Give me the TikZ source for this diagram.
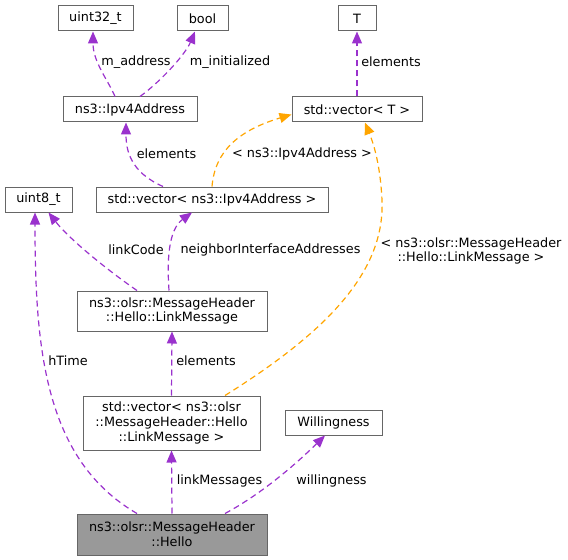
\documentclass[tikz,border=0pt]{standalone}
\usepackage{fontspec}
\setmainfont{DejaVu Sans}
\usetikzlibrary{arrows.meta,calc}
\definecolor{edgepurple}{HTML}{9A32CD}
\definecolor{edgeorange}{HTML}{FFA500}
\definecolor{boxline}{HTML}{666666}
\definecolor{hellofill}{HTML}{999999}
\tikzset{
  box/.style={draw=boxline, line width=0.75pt, inner sep=0pt, align=center,
    font=\fontsize{9.6}{11}\selectfont, fill=white, minimum height=18.75pt},
  rel/.style={draw=edgepurple, line width=0.9pt, dash pattern=on 4.5pt off 3pt,
    -{Triangle[length=9pt,width=7.5pt]}},
  tmpl/.style={rel, draw=edgeorange},
  lbl/.style={font=\fontsize{9.6}{11}\selectfont, inner sep=0pt, align=center}
}
\begin{document}
\begin{tikzpicture}[x=0.75pt,y=-0.75pt]
\useasboundingbox (0,0) rectangle (568,560);
% nodes
\node[box, minimum width=56.25pt] (u32) at (95.5,18.5) {uint32\_t};
\node[box, minimum width=38.25pt] (bool) at (202.5,18.5) {bool};
\node[box, minimum width=28.5pt] (T) at (357,18.5) {T};
\node[box, minimum width=100.5pt] (ipv4) at (130,109.5) {ns3::Ipv4Address};
\node[box, minimum width=97.5pt] (vecT) at (357,109.5) {std::vector< T >};
\node[box, minimum width=50.25pt] (u8) at (38.5,199.5) {uint8\_t};
\node[box, minimum width=174pt] (vecipv4) at (212,199.5) {std::vector< ns3::Ipv4Address >};
\node[box, minimum width=142.5pt, minimum height=30pt] (lm) at (172,311) {ns3::olsr::MessageHeader\\::Hello::LinkMessage};
\node[box, minimum width=132.75pt, minimum height=40.5pt] (veclm) at (171.5,423) {std::vector< ns3::olsr\\::MessageHeader::Hello\\::LinkMessage >};
\node[box, minimum width=72.75pt] (will) at (333.5,422.5) {Willingness};
\node[box, minimum width=142.5pt, minimum height=30.75pt, fill=hellofill] (hello) at (172,534.5) {ns3::olsr::MessageHeader\\::Hello};
% edges
\draw[rel] ($(ipv4.north)+(-15,0)$) .. controls (108,80) and (93,62) .. ($(u32.south)+(-2.5,0)$);
\draw[rel] ($(ipv4.north)+(10,0)$) .. controls (160,82) and (185,55) .. ($(bool.south)+(-7.5,0)$);
\draw[rel] (vecT.north) -- (T.south);
\draw[rel] ($(vecipv4.north)+(-49,0)$) .. controls (130,172) and (126,150) .. ($(ipv4.south)+(-4,0)$);
\draw[tmpl] (vecipv4.north) .. controls (215,150) and (240,130) .. ($(vecT.west)+(0,5)$);
\draw[rel] ($(lm.north)+(-35,0)$) .. controls (110,272) and (70,240) .. ($(u8.south)+(10,0)$);
\draw[rel] ($(lm.north)+(-3,0)$) .. controls (167,262) and (168,230) .. ($(vecipv4.south)+(-20,0)$);
\draw[rel] (veclm.north) -- (lm.south);
\draw[tmpl] ($(veclm.north)+(53.5,0)$) .. controls (330,330) and (385,270) .. (382,200) .. controls (380,160) and (372,140) .. ($(vecT.south)+(8,0)$);
\draw[rel] ($(hello.north)+(-35,0)$) .. controls (45,460) and (35,350) .. ($(u8.south)+(-3.5,0)$);
\draw[rel] (hello.north) -- (veclm.south);
\draw[rel] ($(hello.north)+(53,0)$) .. controls (265,492) and (300,460) .. ($(will.south)+(-8.5,0)$);
% labels
\node[lbl] (l1) at (136,62) {m\_address};
\node[lbl] (l2) at (230,62) {m\_initialized};
\node[lbl] (l3) at (391,62) {elements};
\node[lbl] (l4) at (166.5,154) {elements};
\node[lbl] (l5) at (302,154) {< ns3::Ipv4Address >};
\node[lbl] (l6) at (136,250) {linkCode};
\node[lbl] (l7) at (270.5,250) {neighborInterfaceAddresses};
\node[lbl] (l8) at (471,251) {< ns3::olsr::MessageHeader\\::Hello::LinkMessage >};
\node[lbl] (l9) at (206,361) {elements};
\node[lbl] (l10) at (68,361) {hTime};
\node[lbl] (l11) at (219.5,481) {linkMessages};
\node[lbl] (l12) at (331.5,481) {willingness};
\end{tikzpicture}
\end{document}
